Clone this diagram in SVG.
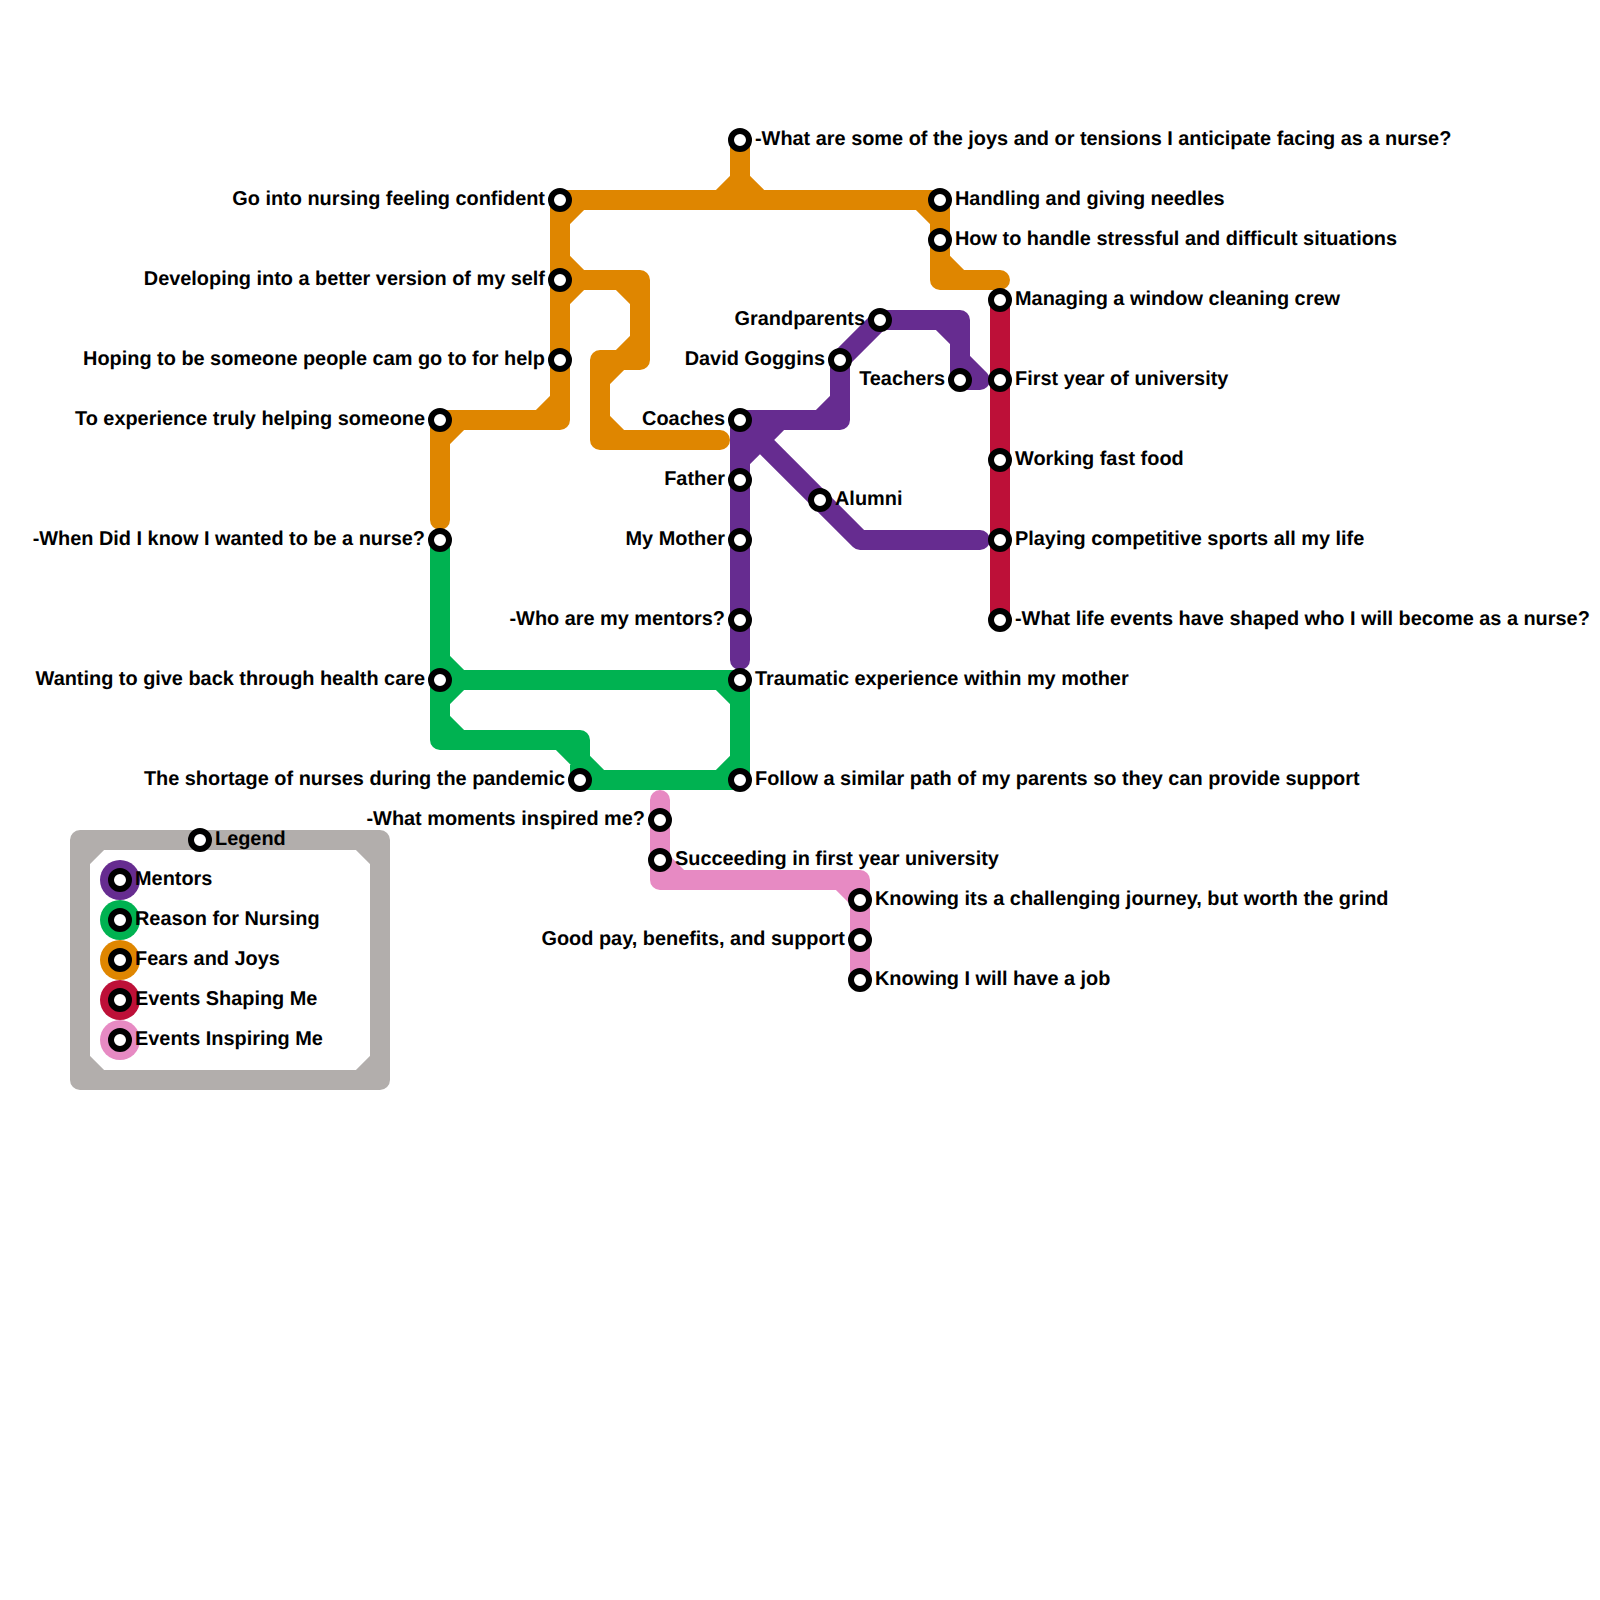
<svg xmlns="http://www.w3.org/2000/svg" width="1600" height="1600" viewBox="0 0 1600 1600">
<style>
.line{fill:none;stroke-width:20;stroke-linecap:round;stroke-linejoin:round}
.st{fill:#fff;stroke:#000;stroke-width:6}
text{font-family:"Liberation Sans",Arial,sans-serif;font-weight:700;font-size:19.9px;fill:#000;text-rendering:geometricPrecision}
.l{text-anchor:end}
</style>
<defs>
<circle id="s" r="9" class="st"/>
</defs>
<rect width="1600" height="1600" fill="#fff"/>
<g id="connectors">
<path id="line-legend" class="line" stroke="#b2aeac" stroke-linecap="butt" d="M80 840H380V1080H80ZM80 860L100 840M360 840L380 860M380 1060L360 1080M100 1080L80 1060"/>
<path id="line-fears" class="line" stroke="#df8600" d="M440 520V420H560V200H940V280H1000M440 440L460 420M540 420L560 400M560 220L580 200M560 260L580 280L560 300M560 280H640V360H600V440H720M620 280L640 300M640 340L600 380M600 420L620 440M740 140V200M720 200L740 180L760 200M920 200L940 220M940 260L960 280"/>
<path id="line-mentors" class="line" stroke="#662c90" d="M740 660V420H840V360L880 320H960V380H980M960 360L980 380M940 320L960 340M820 420L840 400M740 460L780 420M740 420L860 540H980M740 440H760"/>
<path id="line-reason" class="line" stroke="#00b251" d="M440 540V740H580V780H740V680H440M440 660L460 680L440 700M440 720L460 740M560 740L600 780M720 680L740 700M720 780L740 760"/>
<path id="line-events-shaping" class="line" stroke="#bd1038" d="M1000 300V620"/>
<path id="line-events-inspiring" class="line" stroke="#e78ac3" d="M660 800V880H860V980M660 860L680 880M840 880L860 900"/>
</g>
<g id="legend">
<circle cx="120" cy="880" r="20" fill="#662c90"/>
<circle cx="120" cy="920" r="20" fill="#00b251"/>
<circle cx="120" cy="960" r="20" fill="#df8600"/>
<circle cx="120" cy="1000" r="20" fill="#bd1038"/>
<circle cx="120" cy="1040" r="20" fill="#e78ac3"/>
<g id="n-legend"><use href="#s" x="200" y="840"/><text x="215" y="845">Legend</text></g>
<g id="n-k1"><use href="#s" x="120" y="880"/><text x="135" y="885">Mentors</text></g>
<g id="n-k2"><use href="#s" x="120" y="920"/><text x="135" y="925">Reason for Nursing</text></g>
<g id="n-k3"><use href="#s" x="120" y="960"/><text x="135" y="965">Fears and Joys</text></g>
<g id="n-k4"><use href="#s" x="120" y="1000"/><text x="135" y="1005">Events Shaping Me</text></g>
<g id="n-k5"><use href="#s" x="120" y="1040"/><text x="135" y="1045">Events Inspiring Me</text></g>
</g>
<g id="n1"><use href="#s" x="740" y="140"/><text x="755" y="145">-What are some of the joys and or tensions I anticipate facing as a nurse?</text></g>
<g id="n2"><use href="#s" x="560" y="200"/><text class="l" x="545" y="205">Go into nursing feeling confident</text></g>
<g id="n3"><use href="#s" x="560" y="280"/><text class="l" x="545" y="285">Developing into a better version of my self</text></g>
<g id="n4"><use href="#s" x="560" y="360"/><text class="l" x="545" y="365">Hoping to be someone people cam go to for help</text></g>
<g id="n5"><use href="#s" x="440" y="420"/><text class="l" x="425" y="425">To experience truly helping someone</text></g>
<g id="n6"><use href="#s" x="440" y="540"/><text class="l" x="425" y="545">-When Did I know I wanted to be a nurse?</text></g>
<g id="n7"><use href="#s" x="440" y="680"/><text class="l" x="425" y="685">Wanting to give back through health care</text></g>
<g id="n8"><use href="#s" x="580" y="780"/><text class="l" x="565" y="785">The shortage of nurses during the pandemic</text></g>
<g id="n9"><use href="#s" x="940" y="200"/><text x="955" y="205">Handling and giving needles</text></g>
<g id="n10"><use href="#s" x="940" y="240"/><text x="955" y="245">How to handle stressful and difficult situations</text></g>
<g id="n11"><use href="#s" x="880" y="320"/><text class="l" x="865" y="325">Grandparents</text></g>
<g id="n12"><use href="#s" x="840" y="360"/><text class="l" x="825" y="365">David Goggins</text></g>
<g id="n13"><use href="#s" x="960" y="380"/><text class="l" x="945" y="385">Teachers</text></g>
<g id="n14"><use href="#s" x="740" y="420"/><text class="l" x="725" y="425">Coaches</text></g>
<g id="n15"><use href="#s" x="740" y="480"/><text class="l" x="725" y="485">Father</text></g>
<g id="n16"><use href="#s" x="820" y="500"/><text x="835" y="505">Alumni</text></g>
<g id="n17"><use href="#s" x="740" y="540"/><text class="l" x="725" y="545">My Mother</text></g>
<g id="n18"><use href="#s" x="740" y="620"/><text class="l" x="725" y="625">-Who are my mentors?</text></g>
<g id="n19"><use href="#s" x="740" y="680"/><text x="755" y="685">Traumatic experience within my mother</text></g>
<g id="n20"><use href="#s" x="740" y="780"/><text x="755" y="785">Follow a similar path of my parents so they can provide support</text></g>
<g id="n21"><use href="#s" x="1000" y="300"/><text x="1015" y="305">Managing a window cleaning crew</text></g>
<g id="n22"><use href="#s" x="1000" y="380"/><text x="1015" y="385">First year of university</text></g>
<g id="n23"><use href="#s" x="1000" y="460"/><text x="1015" y="465">Working fast food</text></g>
<g id="n24"><use href="#s" x="1000" y="540"/><text x="1015" y="545">Playing competitive sports all my life</text></g>
<g id="n25"><use href="#s" x="1000" y="620"/><text x="1015" y="625">-What life events have shaped who I will become as a nurse?</text></g>
<g id="n26"><use href="#s" x="660" y="820"/><text class="l" x="645" y="825">-What moments inspired me?</text></g>
<g id="n27"><use href="#s" x="660" y="860"/><text x="675" y="865">Succeeding in first year university</text></g>
<g id="n28"><use href="#s" x="860" y="900"/><text x="875" y="905">Knowing its a challenging journey, but worth the grind</text></g>
<g id="n29"><use href="#s" x="860" y="940"/><text class="l" x="845" y="945">Good pay, benefits, and support</text></g>
<g id="n30"><use href="#s" x="860" y="980"/><text x="875" y="985">Knowing I will have a job</text></g>
</svg>
